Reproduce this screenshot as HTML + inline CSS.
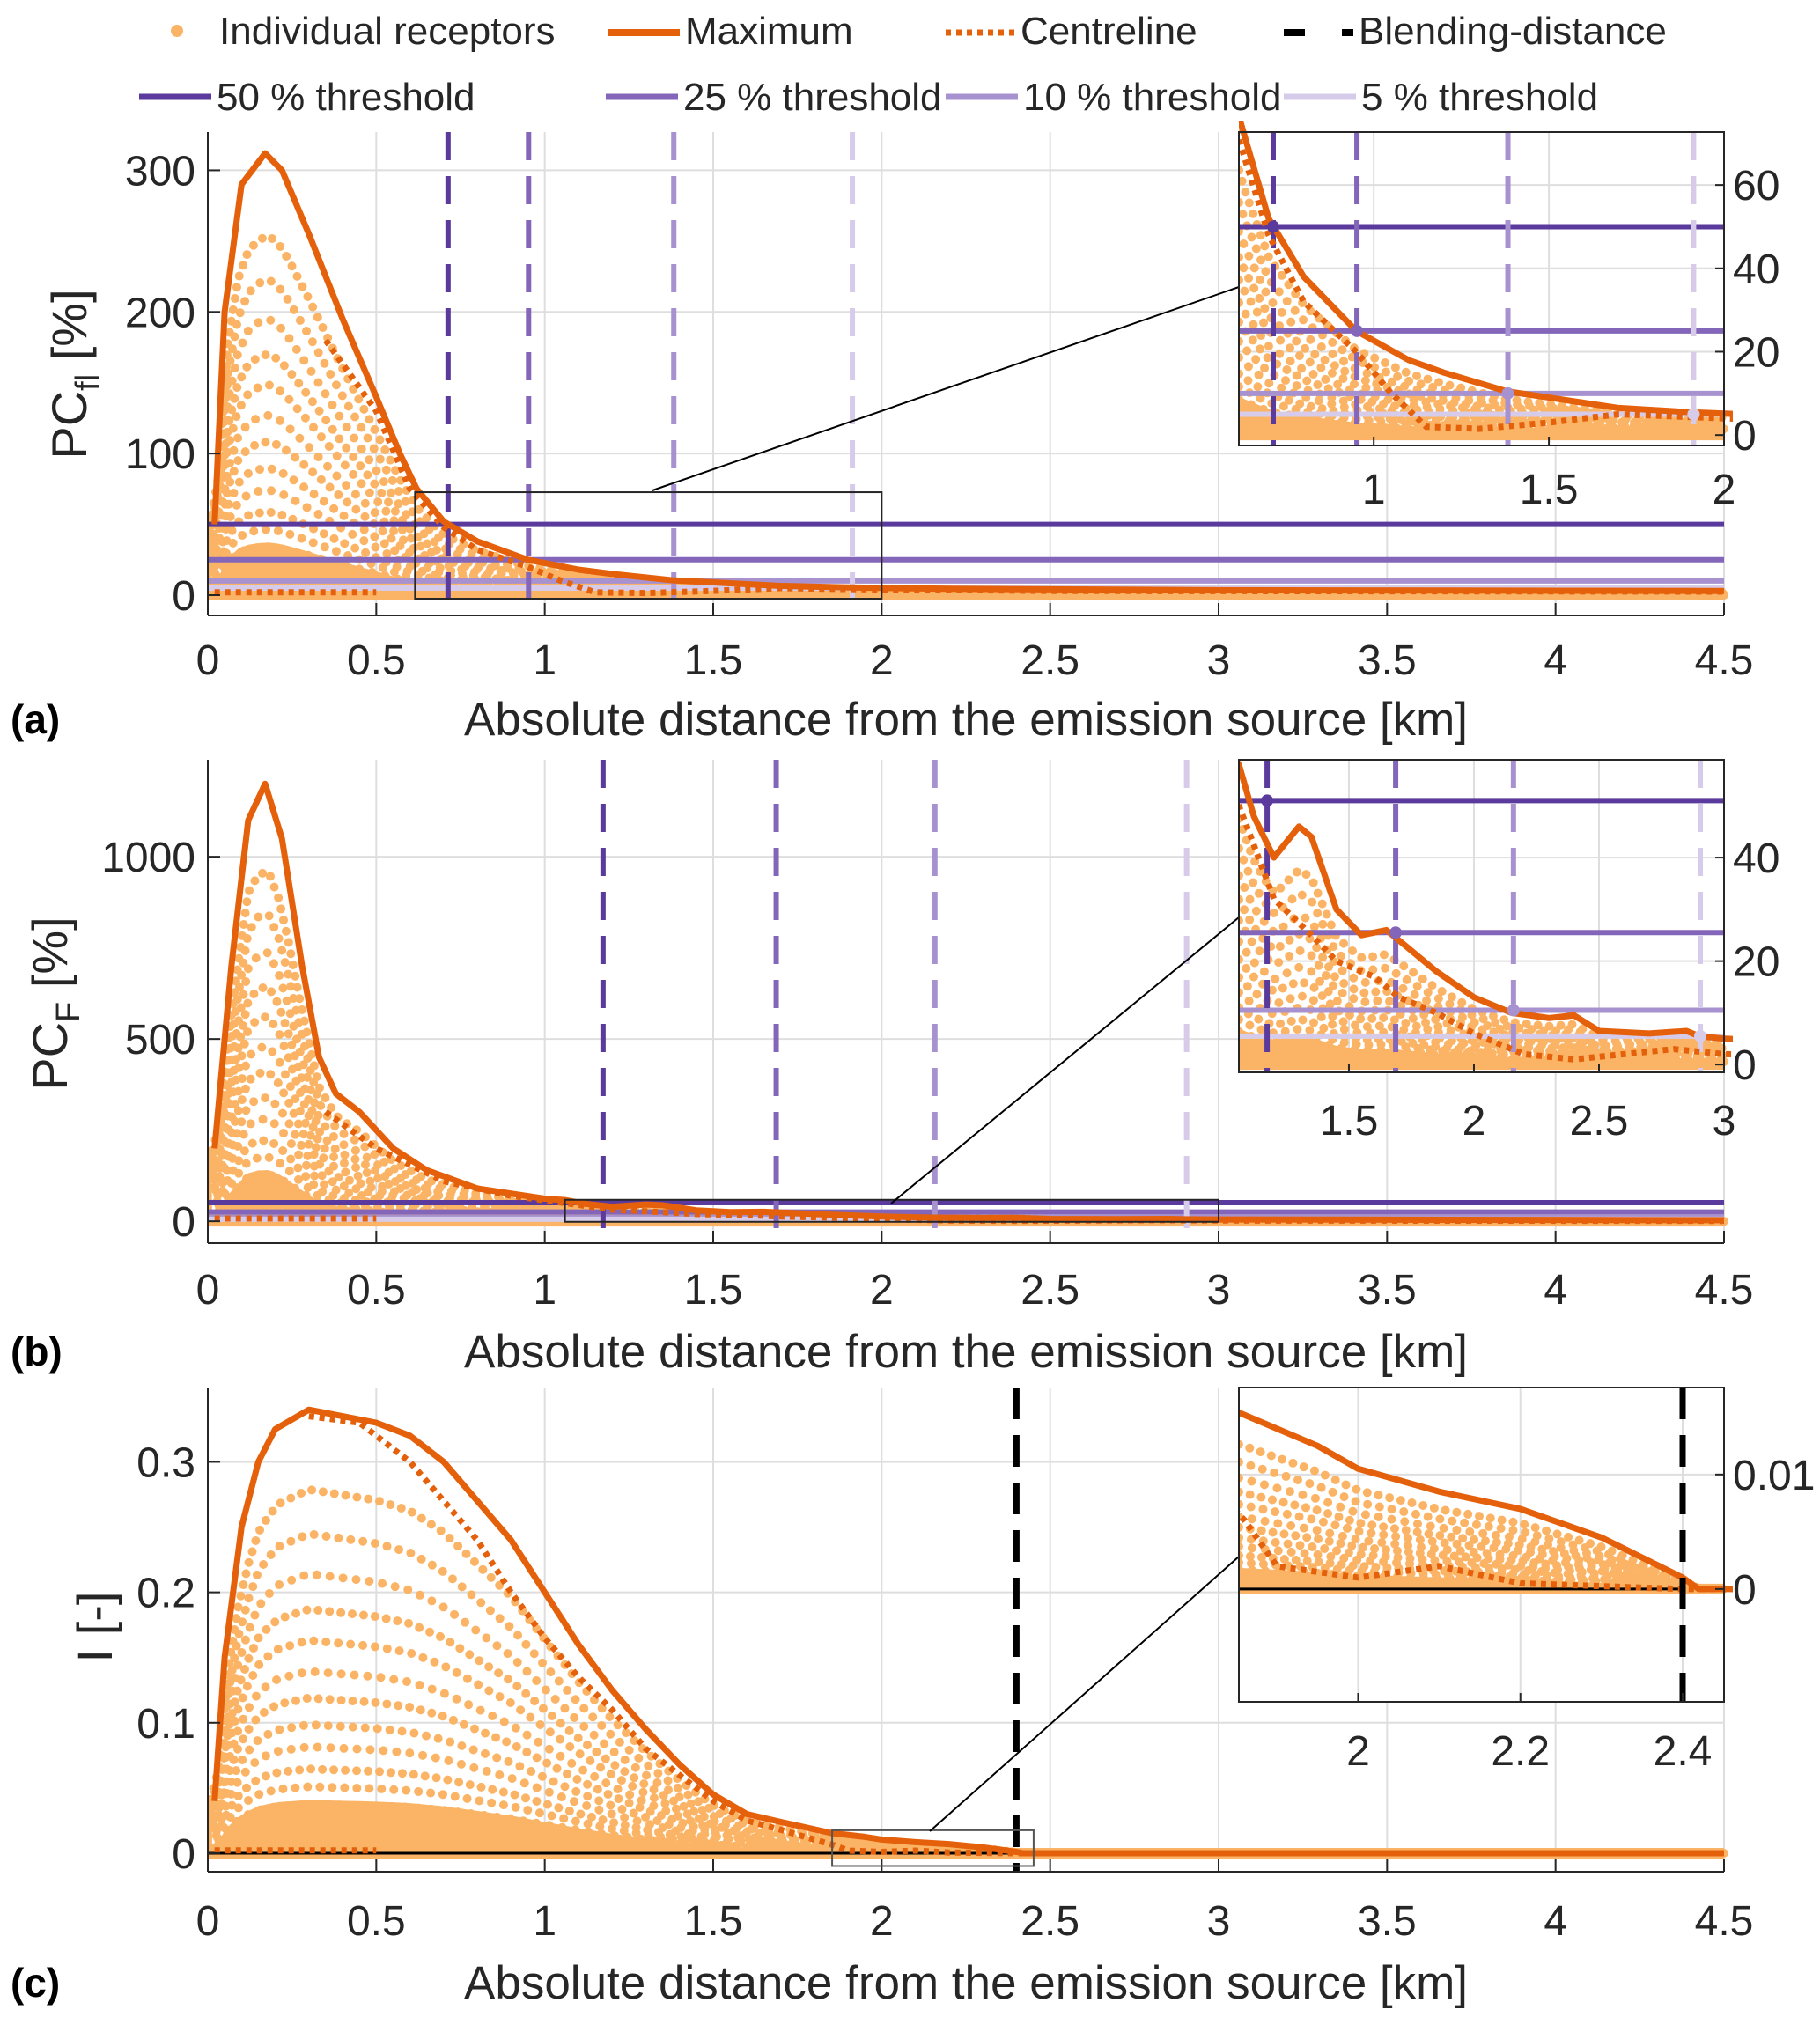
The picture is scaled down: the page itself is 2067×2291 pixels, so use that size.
<!DOCTYPE html>
<html><head><meta charset="utf-8"><style>
html,body{margin:0;padding:0;background:#fff;}
svg{display:block;font-family:"Liberation Sans",Arial,sans-serif;}
</style></head><body>
<svg id="fig" width="2067" height="2291" viewBox="0 0 2067 2291" xmlns="http://www.w3.org/2000/svg"></svg>
<script>
// ---------- DATA ----------
const aMaxX=[0.02,0.05,0.1,0.17,0.22,0.3,0.4,0.5,0.57,0.62,0.7,0.8,0.95,1.1,1.2,1.38,1.5,1.7,1.9,2.2,3.0,4.5];
const aMaxY=[50,200,290,312,300,255,195,140,100,75,52,38,25,18,15,10.5,9,6.5,5.5,4.5,3.5,3];
const aCenX=[0.35,0.5,0.6,0.7,0.8,0.95,1.05,1.15,1.3,1.5,1.7,2.0,2.5,4.5];
const aCenY=[180,130,75,48,32,20,10,2,1.5,3,5,4,3,2.5];
const aThrY=[50,25,10,5];
const aThrX=[0.713,0.952,1.383,1.913];

const bMaxX=[0.02,0.07,0.12,0.17,0.22,0.28,0.33,0.38,0.45,0.55,0.65,0.8,1.0,1.06,1.12,1.2,1.3,1.35,1.45,1.55,1.65,1.7,1.85,2.0,2.15,2.3,2.4,2.5,2.7,2.85,2.9,3.0,4.5];
const bMaxY=[200,700,1100,1200,1050,700,450,350,300,200,140,90,62,58,48,40,46,44,30,25,26,24,18,13,10,9,9.5,6.5,6,6.5,5.5,5,3];
const bCenX=[0.35,0.5,0.7,0.9,1.06,1.1,1.2,1.35,1.45,1.6,1.7,1.85,2.0,2.2,2.4,2.6,2.8,3.0,4.5];
const bCenY=[300,200,110,70,50,45,32,25,20,17,13,10,6,2,1,2,3,2,1];
const bThrY=[51,25.5,10.5,5.5];
const bThrX=[1.173,1.687,2.158,2.905];

const cMaxX=[0.02,0.05,0.1,0.15,0.2,0.3,0.4,0.5,0.6,0.7,0.8,0.9,1.0,1.1,1.2,1.3,1.4,1.5,1.6,1.7,1.85,1.95,2.0,2.1,2.2,2.3,2.4,2.42,4.5];
const cMaxY=[0.04,0.15,0.25,0.3,0.325,0.34,0.335,0.33,0.32,0.3,0.27,0.24,0.2,0.16,0.125,0.095,0.068,0.045,0.03,0.024,0.0155,0.0125,0.0105,0.0085,0.007,0.0045,0.001,0,0];
const cCenX=[0.3,0.45,0.6,0.7,0.8,0.9,1.0,1.1,1.2,1.3,1.4,1.5,1.6,1.7,1.86,1.9,2.0,2.1,2.2,2.4,4.5];
const cCenY=[0.335,0.33,0.3,0.27,0.24,0.2,0.165,0.135,0.11,0.08,0.06,0.04,0.025,0.018,0.006,0.002,0.001,0.002,0.0005,0,0];
const cBlend=2.4;

const nearX=[0.02,0.5];
const receptorFactors=[0.82,0.72,0.63,0.55,0.48,0.41,0.35,0.29,0.24,0.19,0.15,0.11,0.08,0.055,0.035,0.018,0.006];

const xTicksMain=[0,0.5,1,1.5,2,2.5,3,3.5,4,4.5];
const xTickLabelsMain=["0","0.5","1","1.5","2","2.5","3","3.5","4","4.5"];
const aYTicks=[0,100,200,300];
const bYTicks=[0,500,1000];
const cYTicks=[0,0.1,0.2,0.3];
const aInsXTicks=[1,1.5,2], aInsYTicks=[0,20,40,60];
const bInsXTicks=[1.5,2,2.5,3], bInsYTicks=[0,20,40];
const cInsXTicks=[2,2.2,2.4], cInsYTicks=[0,0.01];

// ---------- STYLE ----------
const ORANGE="#e5600b", DOT="#fbb465";
const PURP=["#5a3a9c","#8366ba","#a792cf","#d6ccea"];
const svg=document.getElementById('fig');
const NS="http://www.w3.org/2000/svg";
function mk(tag,attrs,name,parent){
  const e=document.createElementNS(NS,tag);
  for(const k in attrs) e.setAttribute(k,attrs[k]);
  
  
  (parent||svg).appendChild(e);
  return e;
}
function interp(xs,ys,x){
  if(x<=xs[0]) return ys[0];
  for(let i=1;i<xs.length;i++){ if(x<=xs[i]){const t=(x-xs[i-1])/(xs[i]-xs[i-1]);return ys[i-1]+t*(ys[i]-ys[i-1]);} }
  return ys[ys.length-1];
}
function scale(px0,px1,d0,d1){return v=>px0+(v-d0)/(d1-d0)*(px1-px0);}
let clipId=0;
function txt(x,y,s,opts,name,parent){
  const t=mk('text',Object.assign({x:x,y:y,'font-size':48,fill:'#262626'},opts||{}),name,parent);
  t.textContent=s;return t;
}
function pts(sx,sy,xs,ys){return xs.map((x,i)=>sx(x).toFixed(1)+','+sy(ys[i]).toFixed(1)).join(' ');}

function drawPlot(cfg){
  const {L,R,T,B,x0,x1,y0,y1,name,inset}=cfg;
  const sx=scale(L,R,x0,x1), sy=scale(B,T,y0,y1);
  const g=mk('g',{},name);
  if(inset) mk('rect',{x:L,y:T,width:R-L,height:B-T,fill:'#fff'},name+'-background',g);
  cfg.xt.forEach(v=>mk('line',{x1:sx(v),x2:sx(v),y1:T,y2:B,stroke:'#dedede','stroke-width':2},name+'-x-grid',g));
  cfg.yt.forEach(v=>mk('line',{x1:L,x2:R,y1:sy(v),y2:sy(v),stroke:'#dedede','stroke-width':2},name+'-y-grid',g));
  const id='clip'+(clipId++);
  const cp=mk('clipPath',{id:id},name+'-clip',g);
  mk('rect',{x:L,y:T-12,width:R-L+10,height:B-T+12},name+'-clip-rect',cp);
  const pg=mk('g',{'clip-path':'url(#'+id+')'},name+'-series',g);
  const N=inset?80:150;
  const dxs=[];for(let i=0;i<=N;i++) dxs.push(x0+(x1-x0)*i/N);
  const mxs=cfg.maxX, mys=cfg.maxY;
  const fillTop=dxs.map(x=>interp(mxs,mys,x)*0.12);
  mk('polygon',{points:pts(sx,sy,dxs,fillTop)+' '+sx(x1)+','+sy(0)+' '+sx(x0)+','+sy(0),fill:DOT},name+'-receptor-band',pg);
  receptorFactors.forEach((f,k)=>{
    const ys=dxs.map(x=>interp(mxs,mys,x)*f);
    mk('polyline',{points:pts(sx,sy,dxs,ys),fill:'none',stroke:DOT,'stroke-width':10,'stroke-linecap':'round','stroke-dasharray':'0 '+(13+k%3),},name+'-receptor-dots',pg);
  });
  mk('line',{x1:sx(x0),x2:sx(x1),y1:sy(0),y2:sy(0),stroke:DOT,'stroke-width':12},name+'-receptor-baseline',pg);
  if(cfg.thrY){
    cfg.thrY.forEach((v,i)=>mk('line',{x1:L,x2:R,y1:sy(v),y2:sy(v),stroke:PURP[i],'stroke-width':6},name+'-threshold-line',pg));
    cfg.thrX.forEach((v,i)=>mk('line',{x1:sx(v),x2:sx(v),y1:T,y2:B,stroke:PURP[i],'stroke-width':6,'stroke-dasharray':'32 18'},name+'-threshold-distance',pg));
  }
  if(cfg.blend!==undefined){
    mk('line',{x1:sx(0),x2:sx(cfg.blend),y1:sy(0),y2:sy(0),stroke:'#000','stroke-width':3},name+'-zero-line',pg);
  }
  mk('polyline',{points:pts(sx,sy,nearX,[y1*0.006,y1*0.006]),fill:'none',stroke:ORANGE,'stroke-width':7,'stroke-dasharray':'6 6'},name+'-centreline-near',pg);
  mk('polyline',{points:pts(sx,sy,cfg.cenX,cfg.cenY),fill:'none',stroke:ORANGE,'stroke-width':7,'stroke-dasharray':'6 6'},name+'-centreline',pg);
  mk('polyline',{points:pts(sx,sy,mxs,mys),fill:'none',stroke:ORANGE,'stroke-width':7,'stroke-linejoin':'round'},name+'-maximum',pg);
  if(cfg.blend!==undefined){
    mk('line',{x1:sx(cfg.blend),x2:sx(cfg.blend),y1:T,y2:B,stroke:'#000','stroke-width':7,'stroke-dasharray':'36 18'},name+'-blending-distance',pg);
  }
  if(inset && cfg.thrY){
    cfg.thrY.forEach((v,i)=>mk('circle',{cx:sx(cfg.thrX[i]),cy:sy(v),r:7,fill:PURP[i]},name+'-threshold-marker',pg));
  }
  if(inset){
    mk('rect',{x:L,y:T,width:R-L,height:B-T,fill:'none',stroke:'#262626','stroke-width':2},name+'-box',g);
    cfg.xt.forEach((v,i)=>{mk('line',{x1:sx(v),x2:sx(v),y1:B,y2:B-10,stroke:'#262626','stroke-width':2},name+'-x-tick',g);
      txt(sx(v),cfg.xLabY,cfg.xtl[i],{'text-anchor':'middle'},name+'-x-tick-label',g);});
    cfg.yt.forEach((v,i)=>{mk('line',{x1:R,x2:R-10,y1:sy(v),y2:sy(v),stroke:'#262626','stroke-width':2},name+'-y-tick',g);
      txt(R+10,sy(v)+17,cfg.ytl[i],{},name+'-y-tick-label',g);});
  } else {
    mk('line',{x1:L,x2:R,y1:B,y2:B,stroke:'#262626','stroke-width':2},name+'-x-axis',g);
    mk('line',{x1:L,x2:L,y1:T,y2:B,stroke:'#262626','stroke-width':2},name+'-y-axis',g);
    cfg.xt.forEach((v,i)=>{mk('line',{x1:sx(v),x2:sx(v),y1:B,y2:B-14,stroke:'#262626','stroke-width':2},name+'-x-tick',g);
      txt(sx(v),cfg.xLabY,cfg.xtl[i],{'text-anchor':'middle'},name+'-x-tick-label',g);});
    cfg.yt.forEach((v,i)=>{mk('line',{x1:L,x2:L+14,y1:sy(v),y2:sy(v),stroke:'#262626','stroke-width':2},name+'-y-tick',g);
      txt(L-14,sy(v)+17,cfg.ytl[i],{'text-anchor':'end'},name+'-y-tick-label',g);});
  }
  return {sx,sy};
}

const lbl=a=>a.map(v=>String(v));
const pa=drawPlot({name:'panel-a',L:236,R:1958,T:150,B:699,x0:0,x1:4.5,y0:-14.3,y1:327,xt:xTicksMain,xtl:xTickLabelsMain,yt:aYTicks,ytl:lbl(aYTicks),xLabY:766,maxX:aMaxX,maxY:aMaxY,cenX:aCenX,cenY:aCenY,thrY:aThrY,thrX:aThrX});
mk('rect',{x:pa.sx(0.615),y:pa.sy(72.7),width:pa.sx(2)-pa.sx(0.615),height:pa.sy(-2.5)-pa.sy(72.7),fill:'none',stroke:'#262626','stroke-width':2},'panel-a-zoom-box');
mk('line',{x1:741,y1:557,x2:1407,y2:326,stroke:'#000','stroke-width':2},'panel-a-zoom-connector');
drawPlot({name:'panel-a-inset',inset:true,L:1407,R:1958,T:150,B:506,x0:0.615,x1:2,y0:-2.5,y1:72.7,xt:aInsXTicks,xtl:lbl(aInsXTicks),yt:aInsYTicks,ytl:lbl(aInsYTicks),xLabY:572,maxX:aMaxX,maxY:aMaxY,cenX:aCenX,cenY:aCenY,thrY:aThrY,thrX:aThrX});

const pb=drawPlot({name:'panel-b',L:236,R:1958,T:863,B:1412,x0:0,x1:4.5,y0:-60,y1:1266,xt:xTicksMain,xtl:xTickLabelsMain,yt:bYTicks,ytl:lbl(bYTicks),xLabY:1481,maxX:bMaxX,maxY:bMaxY,cenX:bCenX,cenY:bCenY,thrY:bThrY,thrX:bThrX});
mk('rect',{x:pb.sx(1.06),y:pb.sy(58.9),width:pb.sx(3)-pb.sx(1.06),height:pb.sy(-1.5)-pb.sy(58.9),fill:'none',stroke:'#262626','stroke-width':2},'panel-b-zoom-box');
mk('line',{x1:1012,y1:1367,x2:1407,y2:1042,stroke:'#000','stroke-width':2},'panel-b-zoom-connector');
drawPlot({name:'panel-b-inset',inset:true,L:1407,R:1958,T:863,B:1218,x0:1.06,x1:3,y0:-1.5,y1:58.9,xt:bInsXTicks,xtl:lbl(bInsXTicks),yt:bInsYTicks,ytl:lbl(bInsYTicks),xLabY:1289,maxX:bMaxX,maxY:bMaxY,cenX:bCenX,cenY:bCenY,thrY:bThrY,thrX:bThrX});

const pc=drawPlot({name:'panel-c',L:236,R:1958,T:1576,B:2126,x0:0,x1:4.5,y0:-0.0142,y1:0.357,xt:xTicksMain,xtl:xTickLabelsMain,yt:cYTicks,ytl:lbl(cYTicks),xLabY:2198,maxX:cMaxX,maxY:cMaxY,cenX:cCenX,cenY:cCenY,blend:cBlend});
mk('rect',{x:pc.sx(1.853),y:pc.sy(0.0176),width:pc.sx(2.451)-pc.sx(1.853),height:pc.sy(-0.0098)-pc.sy(0.0176),fill:'none',stroke:'#555','stroke-width':2},'panel-c-zoom-box');
mk('line',{x1:1056,y1:2080,x2:1407,y2:1768,stroke:'#000','stroke-width':2},'panel-c-zoom-connector');
drawPlot({name:'panel-c-inset',inset:true,L:1407,R:1958,T:1576,B:1933,x0:1.853,x1:2.451,y0:-0.00985,y1:0.0176,xt:cInsXTicks,xtl:lbl(cInsXTicks),yt:cInsYTicks,ytl:lbl(cInsYTicks),xLabY:2005,maxX:cMaxX,maxY:cMaxY,cenX:cCenX,cenY:cCenY,blend:cBlend});

[[817,'a'],[1535,'b'],[2252,'c']].forEach(([y,l])=>{
  txt(1097,y+18,'Absolute distance from the emission source [km]',{'text-anchor':'middle','font-size':53},'x-axis-title-'+l);
  txt(12,y+16,'('+l+')',{'font-size':46,'font-weight':'bold',fill:'#000'},'panel-label-'+l);
});
const ya=txt(0,0,'',{'text-anchor':'middle','font-size':56,transform:'translate(98,425) rotate(-90)'},'y-axis-title-a');
ya.innerHTML='PC<tspan font-size="38" dy="14">fl</tspan><tspan dy="-14"> [%]</tspan>';
const yb=txt(0,0,'',{'text-anchor':'middle','font-size':56,transform:'translate(76,1140) rotate(-90)'},'y-axis-title-b');
yb.innerHTML='PC<tspan font-size="38" dy="14">F</tspan><tspan dy="-14"> [%]</tspan>';
txt(0,0,'I [-]',{'text-anchor':'middle','font-size':56,transform:'translate(127,1848) rotate(-90)'},'y-axis-title-c');

const lg=mk('g',{},'legend');
mk('circle',{cx:201,cy:35,r:7,fill:DOT},'legend-receptors-marker',lg);
txt(249,50,'Individual receptors',{'font-size':44},'legend-receptors-label',lg);
mk('line',{x1:690,x2:772,y1:37,y2:37,stroke:ORANGE,'stroke-width':8},'legend-maximum-marker',lg);
txt(778,50,'Maximum',{'font-size':44},'legend-maximum-label',lg);
mk('line',{x1:1074,x2:1152,y1:37,y2:37,stroke:ORANGE,'stroke-width':7,'stroke-dasharray':'6 6'},'legend-centreline-marker',lg);
txt(1159,50,'Centreline',{'font-size':44},'legend-centreline-label',lg);
mk('line',{x1:1458,x2:1537,y1:37,y2:37,stroke:'#000','stroke-width':8,'stroke-dasharray':'24 42 13 0'},'legend-blending-marker',lg);
txt(1543,50,'Blending-distance',{'font-size':44},'legend-blending-label',lg);
[[158,'50 % threshold'],[688,'25 % threshold'],[1074,'10 % threshold'],[1458,'5 % threshold']].forEach(([x,s],i)=>{
  mk('line',{x1:x,x2:x+82,y1:110,y2:110,stroke:PURP[i],'stroke-width':7},'legend-threshold-marker',lg);
  txt(x+88,125,s,{'font-size':44},'legend-threshold-label',lg);
});
</script>
</body></html>
